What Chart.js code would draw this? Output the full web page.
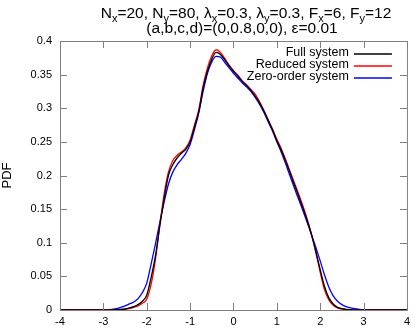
<!DOCTYPE html>
<html>
<head>
<meta charset="utf-8">
<script src="https://cdn.jsdelivr.net/npm/chart.js@4"></script>
<style>
  html, body { margin: 0; padding: 0; background: #fff; }
  #wrap { width: 415px; height: 328px; }
</style>
</head>
<body>
<div id="wrap"><canvas id="pdfChart" width="415" height="328"></canvas></div>
<script>
// x grid of the PDF estimate
const xValues = [
  -4.0, -3.9, -3.8, -3.7, -3.6, -3.5, -3.4, -3.3, -3.2, -3.1,
  -3.0, -2.9, -2.8, -2.7, -2.6, -2.5, -2.4, -2.3, -2.2, -2.1,
  -2.0, -1.9, -1.8, -1.7, -1.6, -1.5, -1.4, -1.3, -1.2, -1.1,
  -1.0, -0.9, -0.8, -0.7, -0.6, -0.5, -0.4, -0.3, -0.2, -0.1,
  0.0, 0.1, 0.2, 0.3, 0.4, 0.5, 0.6, 0.7, 0.8, 0.9,
  1.0, 1.1, 1.2, 1.3, 1.4, 1.5, 1.6, 1.7, 1.8, 1.9,
  2.0, 2.1, 2.2, 2.3, 2.4, 2.5, 2.6, 2.7, 2.8, 2.9,
  3.0, 3.1, 3.2, 3.3, 3.4, 3.5, 3.6, 3.7, 3.8, 3.9, 4.0
];

const fullSystem = [
  0, 0, 0, 0, 0, 0, 0, 0, 0, 0,
  0, 0, 0, 0.0005, 0.001, 0.0015, 0.003, 0.005, 0.008, 0.013,
  0.022, 0.048, 0.08, 0.125, 0.165, 0.2, 0.216, 0.226, 0.233, 0.239,
  0.25, 0.272, 0.295, 0.33, 0.355, 0.373, 0.383, 0.38, 0.372, 0.363,
  0.355, 0.348, 0.34, 0.334, 0.327, 0.318, 0.308, 0.296, 0.282, 0.268,
  0.252, 0.238, 0.222, 0.205, 0.187, 0.17, 0.152, 0.133, 0.112, 0.087,
  0.06, 0.035, 0.018, 0.009, 0.004, 0.002, 0.001, 0.0005, 0, 0,
  0, 0, 0, 0, 0, 0, 0, 0, 0, 0, 0
];

const reducedSystem = [
  0, 0, 0, 0, 0, 0, 0, 0, 0, 0,
  0, 0, 0, 0, 0.0005, 0.001, 0.002, 0.004, 0.006, 0.01,
  0.016, 0.038, 0.075, 0.125, 0.172, 0.205, 0.222, 0.23, 0.235, 0.241,
  0.253, 0.275, 0.298, 0.334, 0.36, 0.378, 0.387, 0.383, 0.374, 0.364,
  0.356, 0.349, 0.341, 0.335, 0.328, 0.321, 0.31, 0.297, 0.283, 0.269,
  0.254, 0.24, 0.224, 0.207, 0.19, 0.173, 0.155, 0.135, 0.112, 0.085,
  0.056, 0.03, 0.015, 0.007, 0.003, 0.0015, 0.0005, 0, 0, 0,
  0, 0, 0, 0, 0, 0, 0, 0, 0, 0, 0
];

const zeroOrderSystem = [
  0, 0, 0, 0, 0, 0, 0, 0, 0, 0,
  0, 0.0005, 0.001, 0.002, 0.004, 0.006, 0.009, 0.012, 0.017, 0.026,
  0.04, 0.068, 0.098, 0.13, 0.16, 0.187, 0.205, 0.216, 0.224, 0.233,
  0.246, 0.268, 0.293, 0.325, 0.352, 0.369, 0.377, 0.376, 0.368, 0.36,
  0.352, 0.345, 0.338, 0.332, 0.325, 0.316, 0.306, 0.294, 0.28, 0.266,
  0.25, 0.235, 0.218, 0.2, 0.182, 0.165, 0.148, 0.13, 0.112, 0.093,
  0.073, 0.052, 0.034, 0.021, 0.013, 0.008, 0.005, 0.003, 0.002, 0.001,
  0.0003, 0, 0, 0, 0, 0, 0, 0, 0, 0, 0
];

const seriesNames = ['Full system', 'Reduced system', 'Zero-order system'];
const seriesColors = ['#000000', '#ff0000', '#0000ff'];
const xTickValues = [-4, -3, -2, -1, 0, 1, 2, 3, 4];
const yTickValues = [0, 0.05, 0.1, 0.15, 0.2, 0.25, 0.3, 0.35, 0.4];

// title lines, each piece: [text, isSubscript]
const titleLine1 = [
  ['N', false], ['x', true], ['=20, N', false], ['y', true], ['=80, \u03bb', false], ['x', true],
  ['=0.3, \u03bb', false], ['y', true], ['=0.3, F', false], ['x', true], ['=6, F', false], ['y', true], ['=12', false]
];
const titleLine2 = [['(a,b,c,d)=(0,0.8,0,0), \u03b5=0.01', false]];

const FONT = '"Liberation Sans", Arial, sans-serif';

function toPoints(ys) {
  return xValues.map((x, i) => ({ x: x, y: ys[i] }));
}

// title with real subscripts
const titlePlugin = {
  id: 'subTitle',
  afterDraw(chart) {
    const ctx = chart.ctx;
    const drawLine = (parts, cx, y) => {
      let total = 0;
      parts.forEach(p => {
        ctx.font = (p[1] ? '11px ' : '15.5px ') + FONT;
        total += ctx.measureText(p[0]).width;
      });
      let x = cx - total / 2;
      parts.forEach(p => {
        ctx.font = (p[1] ? '11px ' : '15.5px ') + FONT;
        ctx.fillText(p[0], x, p[1] ? y + 4 : y);
        x += ctx.measureText(p[0]).width;
      });
    };
    ctx.save();
    ctx.fillStyle = '#000';
    ctx.textBaseline = 'alphabetic';
    ctx.textAlign = 'left';
    drawLine(titleLine1, 246, 18);
    drawLine(titleLine2, 242, 33);
    ctx.restore();
  }
};

// frame with inward ticks on all four sides
const framePlugin = {
  id: 'frame',
  afterDatasetsDraw(chart) {
    const ctx = chart.ctx;
    const a = chart.chartArea;
    const xs = chart.scales.x, ys = chart.scales.y;
    const len = 7;
    ctx.save();
    ctx.strokeStyle = '#808080';
    ctx.lineWidth = 1;
    ctx.beginPath();
    ctx.rect(a.left + 0.5, a.top + 0.5, a.right - a.left, a.bottom - a.top);
    xTickValues.forEach(v => {
      const px = Math.round(xs.getPixelForValue(v)) + 0.5;
      ctx.moveTo(px, a.bottom); ctx.lineTo(px, a.bottom - len);
      ctx.moveTo(px, a.top); ctx.lineTo(px, a.top + len);
    });
    yTickValues.forEach(v => {
      const py = Math.round(ys.getPixelForValue(v)) + 0.5;
      ctx.moveTo(a.left, py); ctx.lineTo(a.left + len, py);
      ctx.moveTo(a.right, py); ctx.lineTo(a.right - len, py);
    });
    ctx.stroke();
    ctx.restore();
  }
};

// legend inside top-right: text first, line sample after
const legendPlugin = {
  id: 'insideLegend',
  afterDraw(chart) {
    const ctx = chart.ctx;
    const a = chart.chartArea;
    ctx.save();
    ctx.font = '12.5px ' + FONT;
    ctx.textAlign = 'right';
    ctx.textBaseline = 'middle';
    seriesNames.forEach((name, i) => {
      const y = Math.round(a.top + 12 + i * 12);
      ctx.fillStyle = '#000';
      ctx.fillText(name, a.right - 58, y);
      ctx.strokeStyle = seriesColors[i];
      ctx.lineWidth = 1.5;
      ctx.beginPath();
      ctx.moveTo(a.right - 53, y + 1);
      ctx.lineTo(a.right - 15, y + 1);
      ctx.stroke();
    });
    ctx.restore();
  }
};

const ctx = document.getElementById('pdfChart').getContext('2d');
new Chart(ctx, {
  type: 'line',
  data: {
    datasets: [fullSystem, reducedSystem, zeroOrderSystem].map((ys, i) => ({
      label: seriesNames[i],
      data: toPoints(ys),
      borderColor: seriesColors[i],
      borderWidth: 1.3,
      pointRadius: 0,
      fill: false,
      cubicInterpolationMode: 'monotone'
    }))
  },
  options: {
    responsive: false,
    animation: false,
    devicePixelRatio: 1,
    layout: { padding: { top: 41, right: 4, left: 0, bottom: 0 } },
    plugins: {
      legend: { display: false },
      title: { display: false },
      tooltip: { enabled: false }
    },
    scales: {
      x: {
        type: 'linear',
        min: -4,
        max: 4,
        grid: { display: false, drawTicks: false },
        border: { display: false },
        afterFit(scale) { scale.height = 18; },
        ticks: {
          stepSize: 1,
          padding: 5,
          color: '#000',
          maxRotation: 0,
          font: { family: FONT, size: 11 }
        }
      },
      y: {
        min: 0,
        max: 0.4,
        grid: { display: false, drawTicks: false },
        border: { display: false },
        afterFit(scale) { scale.width = 60; },
        title: {
          display: true,
          text: 'PDF',
          color: '#000',
          font: { family: FONT, size: 13 },
          padding: { top: 0, bottom: 0 }
        },
        ticks: {
          stepSize: 0.05,
          padding: 8,
          color: '#000',
          font: { family: FONT, size: 11 },
          callback: v => String(parseFloat(v.toFixed(2)))
        }
      }
    }
  },
  plugins: [titlePlugin, framePlugin, legendPlugin]
});
</script>
</body>
</html>
